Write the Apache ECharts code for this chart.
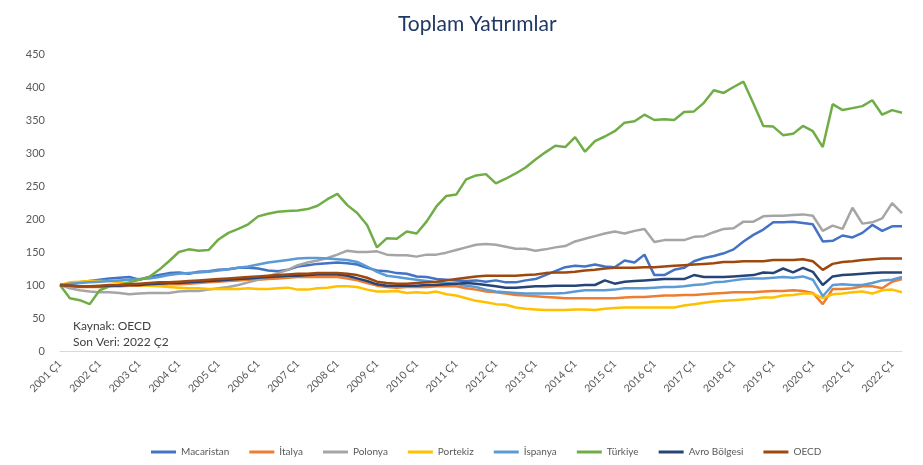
<!DOCTYPE html>
<html>
<head>
<meta charset="utf-8">
<script src="https://cdn.jsdelivr.net/npm/echarts@6/dist/echarts.min.js"></script>
<style>
  html, body { margin: 0; padding: 0; background: #ffffff; }
  #chart { width: 923px; height: 465px; }
</style>
</head>
<body>
<div id="chart"></div>
<script>
// Quarterly categories, 2001 Ç1 .. 2022 Ç2
const quarters = [
  '2001 Ç1','2001 Ç2','2001 Ç3','2001 Ç4','2002 Ç1','2002 Ç2','2002 Ç3','2002 Ç4',
  '2003 Ç1','2003 Ç2','2003 Ç3','2003 Ç4','2004 Ç1','2004 Ç2','2004 Ç3','2004 Ç4',
  '2005 Ç1','2005 Ç2','2005 Ç3','2005 Ç4','2006 Ç1','2006 Ç2','2006 Ç3','2006 Ç4',
  '2007 Ç1','2007 Ç2','2007 Ç3','2007 Ç4','2008 Ç1','2008 Ç2','2008 Ç3','2008 Ç4',
  '2009 Ç1','2009 Ç2','2009 Ç3','2009 Ç4','2010 Ç1','2010 Ç2','2010 Ç3','2010 Ç4',
  '2011 Ç1','2011 Ç2','2011 Ç3','2011 Ç4','2012 Ç1','2012 Ç2','2012 Ç3','2012 Ç4',
  '2013 Ç1','2013 Ç2','2013 Ç3','2013 Ç4','2014 Ç1','2014 Ç2','2014 Ç3','2014 Ç4',
  '2015 Ç1','2015 Ç2','2015 Ç3','2015 Ç4','2016 Ç1','2016 Ç2','2016 Ç3','2016 Ç4',
  '2017 Ç1','2017 Ç2','2017 Ç3','2017 Ç4','2018 Ç1','2018 Ç2','2018 Ç3','2018 Ç4',
  '2019 Ç1','2019 Ç2','2019 Ç3','2019 Ç4','2020 Ç1','2020 Ç2','2020 Ç3','2020 Ç4',
  '2021 Ç1','2021 Ç2','2021 Ç3','2021 Ç4','2022 Ç1','2022 Ç2'
];

// Index values (2001 Ç1 = 100)
const macaristan = [
  100,102,104,106,108,110,111,112,108,112,115,118,119,117,120,121,123,124,126,126,
  125,122,121,123,128,130,132,133,134,133,131,126,122,121,118,117,113,112,109,108,
  107,106,107,105,107,104,104,107,109,115,121,127,129,128,131,128,127,137,134,146,
  115,115,123,126,136,141,144,148,154,166,176,184,195,195,196,194,192,166,167,175,
  172,179,191,182,189,189
];
const italya = [
  100,98,97,97,97,98,98,99,99,100,100,101,101,102,103,104,105,106,107,108,
  108,109,110,111,112,112,112,112,112,110,107,103,99,97,96,97,97,97,98,98,
  98,95,93,90,89,87,85,84,83,82,81,80,80,80,80,80,80,81,82,82,
  83,84,84,85,85,86,87,88,89,89,89,90,91,91,92,91,88,71,94,94,
  95,98,98,95,105,109
];
const polonya = [
  100,95,92,90,89,89,88,86,87,88,88,88,90,91,91,93,95,97,100,104,
  108,113,118,123,130,134,137,141,146,152,150,150,151,146,145,145,143,146,146,149,
  153,157,161,162,161,158,155,155,152,154,157,159,166,170,174,178,181,178,182,185,
  165,168,168,168,173,174,180,185,186,196,196,204,205,205,206,207,205,182,190,185,
  217,193,195,201,224,209
];
const portekiz = [
  100,104,105,106,106,106,104,102,100,99,98,97,96,95,95,94,94,94,94,95,
  94,94,95,96,93,93,95,96,98,98,97,93,90,90,91,88,89,88,90,86,
  84,80,76,74,71,70,66,64,63,62,62,62,63,63,62,64,65,66,66,66,
  66,66,66,69,71,73,75,76,77,78,79,81,81,84,85,87,87,80,86,87,
  89,90,87,92,93,89
];
const ispanya = [
  100,102,103,104,105,106,107,108,109,110,112,115,117,118,119,120,122,124,126,128,
  131,134,136,138,140,141,141,140,139,138,135,128,120,114,112,110,108,106,104,103,
  102,99,97,93,90,89,88,87,87,87,87,88,90,92,92,92,93,95,95,95,
  96,97,97,98,100,101,104,105,107,109,110,110,111,112,111,113,108,83,100,101,
  100,100,103,107,108,112
];
const turkiye = [
  100,80,77,71,92,98,100,104,108,112,123,136,150,154,152,153,169,179,185,192,
  204,208,211,212,213,215,220,230,238,221,209,191,157,171,170,181,178,196,219,235,
  237,260,266,268,254,261,269,278,290,301,311,309,324,302,318,325,333,346,348,358,
  350,351,350,362,363,376,395,391,400,408,375,341,340,327,329,341,333,309,374,365,
  368,371,380,358,365,361
];
const avroBolgesi = [
  100,99,98,98,98,99,99,100,100,101,102,103,103,104,105,106,107,108,109,110,
  111,112,113,114,114,115,116,116,116,114,110,106,101,99,99,99,99,100,100,101,
  102,103,102,100,98,96,96,97,98,98,99,99,99,100,100,107,102,105,106,107,
  108,109,109,109,115,112,112,112,113,114,115,119,118,125,119,126,120,100,113,115,
  116,117,118,119,119,119
];
const oecd = [
  100,99,98,98,99,100,100,101,102,103,104,104,105,106,107,108,109,110,111,112,
  113,114,115,116,117,117,118,118,118,117,115,111,105,103,102,102,103,104,105,107,
  109,111,113,114,114,114,114,115,116,118,119,119,120,122,123,125,126,126,126,127,
  127,128,129,130,131,132,133,135,135,136,136,136,138,138,138,139,136,123,132,135,
  136,138,139,140,140,140
];

const seriesDefs = [
  { name: 'Macaristan',   data: macaristan,  color: '#4472C4' },
  { name: 'İtalya',       data: italya,      color: '#ED7D31' },
  { name: 'Polonya',      data: polonya,     color: '#A5A5A5' },
  { name: 'Portekiz',     data: portekiz,    color: '#FFC000' },
  { name: 'İspanya',      data: ispanya,     color: '#5B9BD5' },
  { name: 'Türkiye',      data: turkiye,     color: '#70AD47' },
  { name: 'Avro Bölgesi', data: avroBolgesi, color: '#264478' },
  { name: 'OECD',         data: oecd,        color: '#9E480E' }
];

const FONT = 'Lato, "Liberation Sans", sans-serif';
const chart = echarts.init(document.getElementById('chart'), null, { renderer: 'canvas' });

chart.setOption({
  animation: false,
  backgroundColor: '#ffffff',
  textStyle: { fontFamily: FONT },
  title: {
    text: 'Toplam Yatırımlar',
    left: 393,
    top: 9,
    textStyle: { fontFamily: FONT, fontSize: 21, fontWeight: 'normal', color: '#1F3864' }
  },
  grid: { left: 60, right: 21, top: 54, bottom: 114, containLabel: false },
  legend: {
    bottom: 3,
    left: 146,
    icon: 'rect',
    itemWidth: 25,
    itemHeight: 3,
    itemGap: 20,
    textStyle: { fontFamily: FONT, fontSize: 10, color: '#595959' },
    data: seriesDefs.map(s => s.name)
  },
  xAxis: {
    type: 'category',
    data: quarters,
    boundaryGap: false,
    axisLine: { show: true, lineStyle: { color: '#D9D9D9', width: 1 } },
    axisTick: { show: false },
    axisLabel: {
      interval: 3,
      rotate: 45,
      margin: 11,
      fontFamily: FONT,
      fontSize: 10.5,
      color: '#595959'
    },
    splitLine: { show: false }
  },
  yAxis: {
    type: 'value',
    min: 0,
    max: 450,
    interval: 50,
    axisLine: { show: false },
    axisTick: { show: false },
    axisLabel: { margin: 15, fontFamily: FONT, fontSize: 11, color: '#595959' },
    splitLine: { show: false }
  },
  graphic: [
    {
      type: 'text',
      left: 73,
      top: 318,
      style: {
        text: 'Kaynak: OECD\nSon Veri: 2022 Ç2',
        font: '12px ' + FONT,
        fill: '#404040',
        lineHeight: 16
      }
    }
  ],
  series: seriesDefs.map(s => ({
    name: s.name,
    type: 'line',
    data: s.data,
    showSymbol: false,
    symbol: 'none',
    lineStyle: { width: 2.5, color: s.color },
    itemStyle: { color: s.color },
    emphasis: { disabled: true }
  }))
});
</script>
</body>
</html>
